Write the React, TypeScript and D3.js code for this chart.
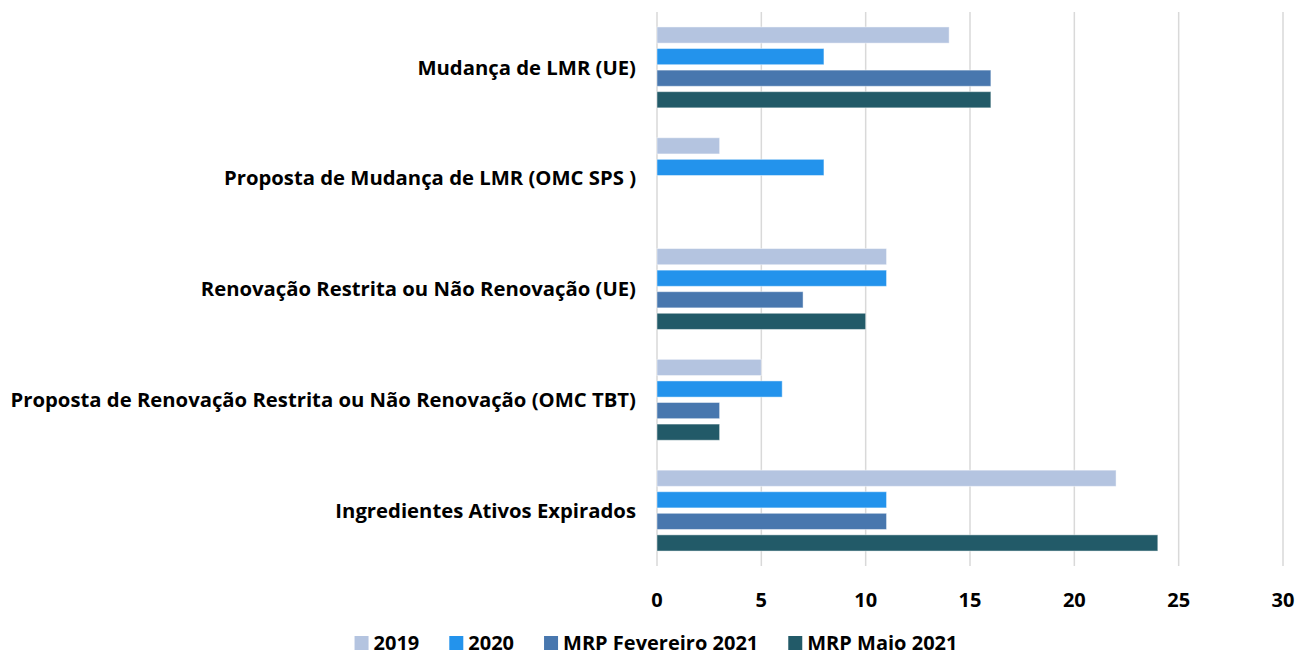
import React, { useEffect, useRef } from 'react';
import * as d3 from 'd3';

const categories = [
  'Mudança de LMR (UE)',
  'Proposta de Mudança de LMR (OMC SPS )',
  'Renovação Restrita ou Não Renovação (UE)',
  'Proposta de Renovação Restrita ou Não Renovação (OMC TBT)',
  'Ingredientes Ativos Expirados',
];
const seriesNames = ['2019', '2020', 'MRP Fevereiro 2021', 'MRP Maio 2021'];
const seriesColors = ['#b4c4e0', '#2393ec', '#4877ae', '#225a68'];
const values2019 = [14, 3, 11, 5, 22];
const values2020 = [8, 8, 11, 6, 11];
const valuesFev2021 = [16, 0, 7, 3, 11];
const valuesMaio2021 = [16, 0, 10, 3, 24];
const xTicks = [0, 5, 10, 15, 20, 25, 30];

const W = 1297;
const H = 660;
const FONT = '"Open Sans", sans-serif';
const FS = 20;

export default function App() {
  const ref = useRef<SVGSVGElement>(null);

  useEffect(() => {
    const svg = d3.select(ref.current);
    svg.selectAll('*').remove();

    const allSeries = [values2019, values2020, valuesFev2021, valuesMaio2021];
    const rows = categories.map((c, i) => ({
      cat: c,
      vals: seriesNames.map((s, j) => ({ s, v: allSeries[j][i] })),
    }));

    const x = d3.scaleLinear().domain([0, 30]).range([657, 1283]);
    const y = d3.scaleBand<string>()
      .domain(categories)
      .range([12, 566])
      .paddingInner(0.27)
      .paddingOuter(0.135);
    const ySub = d3.scaleBand<string>()
      .domain(seriesNames)
      .range([0, y.bandwidth()])
      .paddingInner(0.25);
    const color = d3.scaleOrdinal<string, string>().domain(seriesNames).range(seriesColors);

    // grid
    svg.append('g')
      .selectAll('line')
      .data(xTicks)
      .enter().append('line')
      .attr('x1', (d) => x(d))
      .attr('x2', (d) => x(d))
      .attr('y1', 12)
      .attr('y2', 566)
      .attr('stroke', '#d9d9d9')
      .attr('stroke-width', 1.5);

    // bars
    const groups = svg.append('g')
      .selectAll('g')
      .data(rows)
      .enter().append('g')
      .attr('transform', (d) => `translate(0,${y(d.cat)})`);

    groups.selectAll('rect')
      .data((d) => d.vals.filter((v) => v.v > 0))
      .enter().append('rect')
      .attr('x', x(0))
      .attr('y', (d) => ySub(d.s)!)
      .attr('width', (d) => x(d.v) - x(0))
      .attr('height', ySub.bandwidth())
      .attr('fill', (d) => color(d.s))
      .attr('stroke', 'rgba(255,255,255,0.45)')
      .attr('stroke-width', 1);

    // category labels
    svg.append('g')
      .selectAll('text')
      .data(categories)
      .enter().append('text')
      .attr('x', 636)
      .attr('y', (d) => y(d)! + y.bandwidth() / 2)
      .attr('dy', '0.35em')
      .attr('text-anchor', 'end')
      .attr('font-family', FONT)
      .attr('font-weight', 700)
      .attr('font-size', 20.3)
      .attr('fill', '#000')
      .text((d) => d);

    // x tick labels
    svg.append('g')
      .selectAll('text')
      .data(xTicks)
      .enter().append('text')
      .attr('x', (d) => x(d))
      .attr('y', 600)
      .attr('dy', '0.35em')
      .attr('text-anchor', 'middle')
      .attr('font-family', FONT)
      .attr('font-weight', 700)
      .attr('font-size', FS)
      .attr('fill', '#000')
      .text((d) => d);

    // legend
    const legend = svg.append('g');
    const items = legend.selectAll('g')
      .data(seriesNames)
      .enter().append('g');
    items.append('rect')
      .attr('width', 14)
      .attr('height', 14)
      .attr('y', -7)
      .attr('fill', (d) => color(d));
    const texts = items.append('text')
      .attr('x', 19)
      .attr('dy', '0.35em')
      .attr('font-family', FONT)
      .attr('font-weight', 700)
      .attr('font-size', FS)
      .attr('fill', '#000')
      .text((d) => d);
    const widths: number[] = [];
    texts.each(function () {
      widths.push((this as SVGTextElement).getComputedTextLength());
    });
    const gap = 30;
    const total = d3.sum(widths) + widths.length * 19 + (widths.length - 1) * gap;
    let cx = 656 - total / 2;
    items.attr('transform', (_d, i) => {
      const t = `translate(${cx},643)`;
      cx += 19 + widths[i] + gap;
      return t;
    });
  }, []);

  return (
    <svg
      ref={ref}
      width={W}
      height={H}
      style={{ position: 'absolute', left: 0, top: 0, background: '#fff' }}
    />
  );
}
